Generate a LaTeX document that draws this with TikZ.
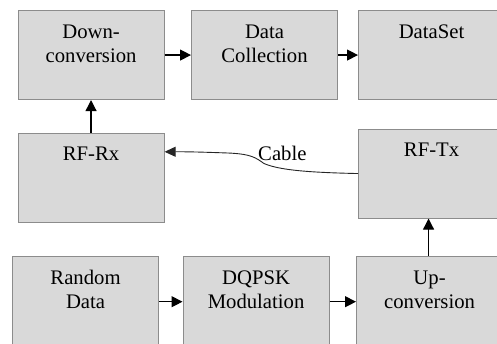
\documentclass[tikz,border=0pt]{standalone}
\usepackage{fontspec}
\setmainfont{Liberation Serif}
\usetikzlibrary{arrows.meta,calc}
\definecolor{boxfill}{HTML}{D9D9D9}
\definecolor{boxline}{HTML}{8C8C8C}
\begin{document}
\begin{tikzpicture}[x=1pt,y=-1pt,
  box/.style={draw=boxline, fill=boxfill, line width=1.1pt, minimum width=146pt, minimum height=89pt, inner sep=0pt, anchor=north west},
  txt/.style={font=\fontsize{20.7}{24}\selectfont, align=center, inner sep=0pt, anchor=north, text=black},
  arr/.style={-{Triangle[length=11pt,width=11pt]}, line width=1.2pt, black}]
\useasboundingbox (0,0) rectangle (497,343);
\clip (0,0) rectangle (497,343);
% boxes
\node[box] (down) at (17.5,10) {};
\node[box] (coll) at (191,10) {};
\node[box] (dset) at (358,10) {};
\node[box] (rx) at (17.5,132.5) {};
\node[box] (tx) at (358,128.5) {};
\node[box, minimum height=92pt] (rand) at (12,256) {};
\node[box, minimum height=92pt] (mod) at (182.5,256) {};
\node[box, minimum height=92pt] (up) at (356,256) {};
% texts
\node[txt] (downT) at ([yshift=-15pt]down.north) {Down-\\conversion};
\node[txt] (collT) at ([yshift=-15pt]coll.north) {Data\\Collection};
\node[txt] (dsetT) at ([yshift=-15pt]dset.north) {DataSet};
\node[txt] (rxT) at ([yshift=-14pt]rx.north) {RF-Rx};
\node[txt] (txT) at ([yshift=-14pt]tx.north) {RF-Tx};
\node[txt] (randT) at ([yshift=-14pt]rand.north) {Random\\Data};
\node[txt] (modT) at ([yshift=-14.5pt]mod.north) {DQPSK\\Modulation};
\node[txt] (upT) at ([yshift=-14.5pt]up.north) {Up-\\conversion};
% arrows
\draw[arr] (down.east) -- (coll.west);
\draw[arr] (coll.east) -- (dset.west);
\draw[arr] (rx.north) -- (down.south);
\draw[arr] (rand.east |- 0,301.7) -- (mod.west |- 0,301.7);
\draw[arr] (mod.east |- 0,301.7) -- (up.west |- 0,301.7);
\draw[arr] ([xshift=-1pt]up.north) -- ([xshift=-1pt]up.north |- tx.south);
% cable
\draw[-{Triangle[length=11pt,width=10pt]}, line width=0.9pt, black!85]
  (tx.west) .. controls (312,172.5) and (280,170.5) .. (264,163.5)
  .. controls (256,158) and (252,154) .. (228,153)
  .. controls (205,152.2) and (190,151.7) .. ([yshift=-19.3pt]rx.north east);
\node[font=\fontsize{20.7}{24}\selectfont, anchor=base west, inner sep=0pt, text=black] (cab) at (258,160) {Cable};
\end{tikzpicture}
\end{document}
